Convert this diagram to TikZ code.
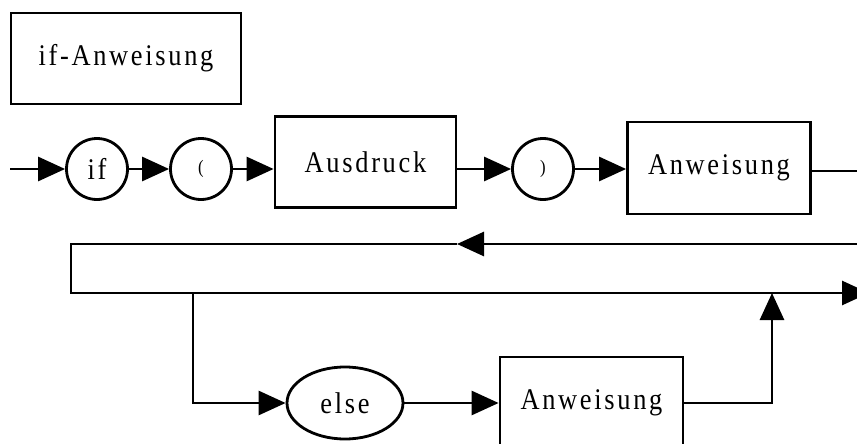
\documentclass[tikz,border=0pt]{standalone}
\usepackage{fontspec}
\newfontfamily\synfont[FakeStretch=0.88,LetterSpace=9]{Liberation Serif}
\usetikzlibrary{arrows.meta, shapes.geometric}

\begin{document}
\begin{tikzpicture}[x=1pt,y=-1pt,line width=2.8pt,
    >={Triangle[length=27pt,width=24pt]},
    box/.style={draw, rectangle, minimum width=183pt, minimum height=92pt, inner sep=0pt,
      font=\synfont\fontsize{30}{32}\selectfont},
    term/.style={draw, circle, minimum size=61pt, inner sep=0pt,
      font=\synfont\fontsize{30}{32}\selectfont},
    oval/.style={draw, ellipse, minimum width=116pt, minimum height=72pt, inner sep=0pt,
      font=\synfont\fontsize{30}{32}\selectfont}]
      \useasboundingbox (0,0) rectangle (857,444);
      \node[box, minimum width=230pt, minimum height=91pt] (title) at (126,58.5) {if-Anweisung};
      % upper row
      \coordinate (start) at (10,169);
      \node[term] (if) at (97,169) {if};
      \node[term, font=\synfont\fontsize{19}{20}\selectfont] (lp) at (201,169) {(};
      \node[box, minimum width=181pt, minimum height=91pt] (expr) at (365.5,162) {Ausdruck};
      \node[term, font=\synfont\fontsize{19}{20}\selectfont] (rp) at (543,169) {)};
      \node[box] (stmt) at (719,168) {Anweisung};
      \coordinate (right) at (857,171);
      \draw[->] (start) -- (if);
      \draw[->] (if) -- (lp);
      \draw[->] (lp) -- (lp -| expr.west);
      \draw[->] (rp -| expr.east) -- (rp);
      \draw[->] (rp) -- (rp -| stmt.west);
      \draw (stmt.east |- right) -- (right);
      % loop lines
      \coordinate (backR) at (857,244);
      \coordinate (backTip) at (457,244);
      \coordinate (backL) at (71,244);
      \coordinate (lowL) at (71,293);
      \coordinate (lowR) at (869,293);
      \draw[->] (backR) -- (backTip);
      \draw[->] (backTip) -- (backL) -- (lowL) -- (lowR);
      % else branch
      \coordinate (split) at (193,293);
      \coordinate (join) at (772,293);
      \node[oval] (else) at (345,403) {else};
      \node[box] (stmt2) at (591.5,403) {Anweisung};
      \draw[->] (split) -- (split |- else) -- (else);
      \draw[->] (else) -- (stmt2);
      \draw[->] (stmt2) -- (stmt2 -| join) -- (join);
    \end{tikzpicture}
\end{document}
